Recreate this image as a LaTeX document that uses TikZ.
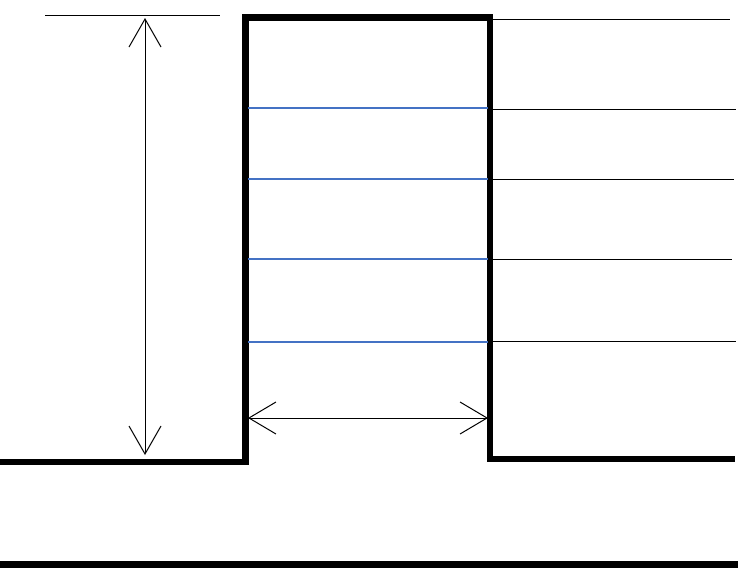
\documentclass[tikz,border=0pt]{standalone}
\usetikzlibrary{arrows.meta}
\definecolor{levelblue}{HTML}{4472C4}
\tikzset{
  wall/.style={line width=6.5pt, line join=miter, line cap=butt},
  level/.style={line width=2.5pt, levelblue},
  thin/.style={line width=1pt},
  dimv/.style={line width=1pt, {Straight Barb[length=28pt,width=32pt]}-{Straight Barb[length=28pt,width=32pt]}},
  dimh/.style={line width=1pt, {Straight Barb[length=27pt,width=32pt]}-{Straight Barb[length=27pt,width=32pt]}},
}
\begin{document}
\begin{tikzpicture}[x=1pt,y=-1pt]
\useasboundingbox (0,0) rectangle (739,568);
% profile
\coordinate (bl0) at (0,462);
\coordinate (bl1) at (245.5,462);
\coordinate (tl) at (245.5,17.5);
\coordinate (tr) at (490,17.5);
\coordinate (br1) at (490,459);
\coordinate (br0) at (735,459);
\draw[wall] (bl0) -- (bl1) -- (tl) -- (tr) -- (br1) -- (br0);
% base line
\coordinate (b0) at (0,564.5);
\coordinate (b1) at (738,564.5);
\draw[wall, line width=7pt] (b0) -- (b1);
% top reference line (left)
\coordinate (r0) at (45,15);
\coordinate (r1) at (220,15);
\draw[thin] (r0) -- (r1);
% vertical dimension
\coordinate (vt) at (145,18);
\coordinate (vb) at (145,455);
\draw[dimv] (vt) -- (vb);
% horizontal dimension
\coordinate (hl) at (248,418);
\coordinate (hr) at (488,418);
\draw[dimh] (hl) -- (hr);
% blue levels
\foreach \y [count=\i] in {108,179,259,342}{
  \coordinate (L\i) at (248,\y);
  \coordinate (R\i) at (488,\y);
  \draw[level] (L\i) -- (R\i);
}
% right thin lines
\foreach \y/\e [count=\i] in {19/730,109/736,179.5/734,259/732,341/736}{
  \coordinate (S\i) at (493,\y);
  \coordinate (E\i) at (\e,\y);
  \draw[thin] (S\i) -- (E\i);
}
\end{tikzpicture}
\end{document}
